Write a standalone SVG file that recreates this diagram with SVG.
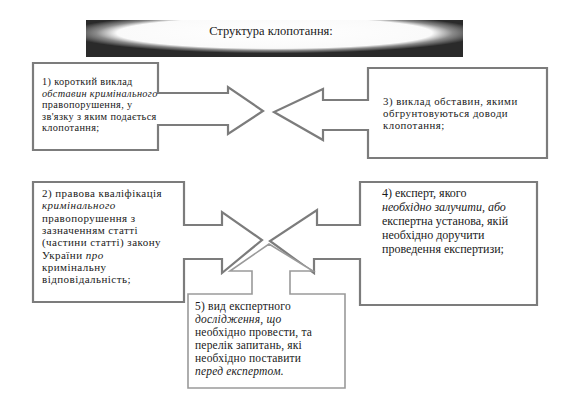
<svg xmlns="http://www.w3.org/2000/svg" width="564" height="407" viewBox="0 0 564 407" font-family="'Liberation Serif', 'Times New Roman', serif">
<defs>
<radialGradient id="ban" cx="0.5" cy="0.35" r="0.55">
<stop offset="0" stop-color="#ffffff"/>
<stop offset="0.76" stop-color="#fafafa"/>
<stop offset="0.86" stop-color="#8a8a8a"/>
<stop offset="1" stop-color="#2a2a2a"/>
</radialGradient>
</defs>
<style>
.box{fill:#fff;stroke:#7c7c7c;stroke-width:2.2;stroke-linejoin:miter}
.b5{fill:#fff;stroke:#9a9a9a;stroke-width:1.6}
text{font-family:"Liberation Serif","Times New Roman",serif;fill:#1a1a1a;font-size:12px}
.t1{font-size:10.3px;letter-spacing:0.35px}
.t2{font-size:11px;letter-spacing:0.45px}
.t3{font-size:10.8px;letter-spacing:0.5px}
.t4{font-size:12px}
.t5{font-size:11.5px;letter-spacing:0.2px}
.i{font-style:italic}
</style>
<rect width="564" height="407" fill="#ffffff"/>
<g id="title">
<rect x="86" y="20" width="377" height="37" fill="url(#ban)"/>
<text x="271" y="35" text-anchor="middle" style="font-size:12.5px">Структура клопотання:</text>
</g>
<g id="connectors">
</g>
<g id="node1">
<path class="box" d="M33,63 H158 V93 H228 V87 L263,111 L228,134 V125 H158 V150 H33 Z"/>
<text class="t1" x="42" y="85">1) короткий виклад</text>
<text class="t1 i" x="42" y="96.5">обставин кримінального</text>
<text class="t1" x="42" y="108">правопорушення, у</text>
<text class="t1" x="42" y="119.5">зв'язку з яким подається</text>
<text class="t1" x="42" y="131">клопотання;</text>
</g>
<g id="node3">
<path class="box" d="M368,68 H547 V158 H368 V130 H323 V140 L274,112 L323,89 V100 H368 Z"/>
<text class="t3" x="383" y="105">3) виклад обставин, якими</text>
<text class="t3" x="383" y="117">обгрунтовуються доводи</text>
<text class="t3" x="383" y="129">клопотання;</text>
</g>
<g id="node2">
<path class="box" d="M33,182 H184 V225 H222 V212 L262,240 L222,273 V259 H184 V302 H33 Z"/>
<text class="t2" x="42" y="197">2) правова кваліфікація</text>
<text class="t2 i" x="42" y="209.3">кримінального</text>
<text class="t2" x="42" y="221.6">правопорушення з</text>
<text class="t2" x="42" y="233.9">зазначенням статті</text>
<text class="t2" x="42" y="246.2">(частини статті) закону</text>
<text class="t2" x="42" y="258.5">України <tspan class="i">про</tspan></text>
<text class="t2" x="42" y="270.8">кримінальну</text>
<text class="t2" x="42" y="283.1">відповідальність;</text>
</g>
<g id="node4">
<path class="box" d="M360,182 H537 V305 H360 V259 H314 V273 L270,241 L317,210 V225 H360 Z"/>
<text class="t4" x="382" y="197">4) експерт, якого</text>
<text class="t4 i" x="382" y="211">необхідно залучити, або</text>
<text class="t4" x="382" y="225">експертна установа, якій</text>
<text class="t4" x="382" y="239">необхідно доручити</text>
<text class="t4" x="382" y="253">проведення експертизи;</text>
</g>
<g id="node5">
<path class="b5" d="M188,294 H252 V271 H230 L269,244 L313,271 H290 V294 H345 V388 H188 Z"/>
<text class="t5" x="195" y="310">5) вид експертного</text>
<text class="t5 i" x="195" y="323">дослідження, що</text>
<text class="t5" x="195" y="336">необхідно провести, та</text>
<text class="t5" x="195" y="349">перелік запитань, які</text>
<text class="t5" x="195" y="362">необхідно поставити</text>
<text class="t5 i" x="195" y="375">перед експертом.</text>
</g>
</svg>
